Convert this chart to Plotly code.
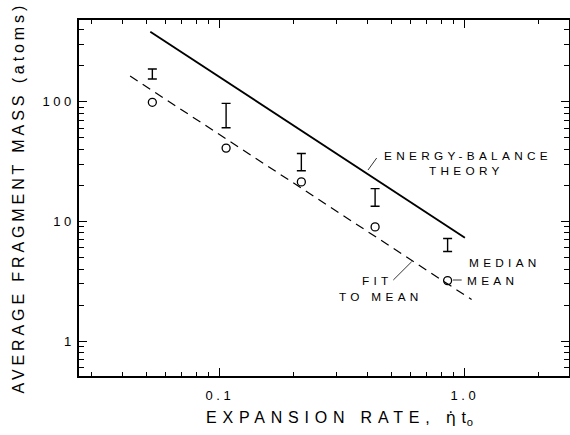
import plotly.graph_objects as go
import math

# ---------------- data ----------------
rate = [0.053, 0.106, 0.215, 0.43, 0.85]
median_low = [155, 60.6, 26.5, 13.4, 5.6]
median_high = [188, 97, 37, 18.8, 7.2]
mean_mass = [99, 41, 21.4, 9.0, 3.2]

theory_x = [0.052, 1.0]
theory_y = [385, 7.3]
fit_x = [0.043, 1.065]
fit_y = [164, 2.22]

x_tick_vals = [0.1, 1.0]
x_tick_text = ["0.1", "1.0"]
y_tick_vals = [1, 10, 100]
y_tick_text = ["1", "10", "100"]
x_minor = [0.03, 0.04, 0.05, 0.06, 0.07, 0.08, 0.09,
           0.2, 0.3, 0.4, 0.5, 0.6, 0.7, 0.8, 0.9, 2]
y_minor = [0.6, 0.7, 0.8, 0.9, 2, 3, 4, 5, 6, 7, 8, 9,
           20, 30, 40, 50, 60, 70, 80, 90, 200, 300, 400]

# ---------------- layout geometry ----------------
W, H = 570, 435
L, R, T, B = 79, 1, 20, 59
PW = W - L - R
PH = H - T - B
FONT = "Liberation Sans, Arial, sans-serif"
XR = [math.log10(0.0266), math.log10(2.66)]
YR = [math.log10(0.51), 2.6837]


def px(x):
    return (x - L) / PW


def py(y):
    return (H - B - y) / PH


def sp(text, s):
    return f'<span style="letter-spacing:{s}px">{text}</span>'


fig = go.Figure()

fig.add_trace(go.Scatter(
    x=theory_x, y=theory_y, mode="lines",
    line=dict(color="black", width=1.9), showlegend=False))
fig.add_trace(go.Scatter(
    x=fit_x, y=fit_y, mode="lines",
    line=dict(color="black", width=1.2, dash="9px,6px"), showlegend=False))

centers = [math.sqrt(a * b) for a, b in zip(median_low, median_high)]
fig.add_trace(go.Scatter(
    x=rate, y=centers, mode="markers",
    marker=dict(size=1, color="rgba(0,0,0,0)"),
    error_y=dict(type="data", symmetric=False,
                 array=[h - c for h, c in zip(median_high, centers)],
                 arrayminus=[c - l for l, c in zip(median_low, centers)],
                 color="black", thickness=1.4, width=4.5),
    showlegend=False))
# open circles drawn on the mirrored (top/right) axes, identical ranges
fig.add_trace(go.Scatter(
    x=rate, y=mean_mass, mode="markers", xaxis="x2", yaxis="y2",
    marker=dict(symbol="circle-open", size=8, color="black",
                line=dict(width=1.3, color="black")),
    showlegend=False))

axis_common = dict(
    type="log", showgrid=False, zeroline=False,
    showline=True, linecolor="black", linewidth=1.5,
    ticks="inside", ticklen=8, tickwidth=1,
    tickcolor="black", tickmode="array",
    tickfont=dict(family=FONT, size=13, color="black"),
)
x_minor_d = dict(tickvals=x_minor, ticks="inside", ticklen=4,
                 tickcolor="black", tickwidth=1)
y_minor_d = dict(tickvals=y_minor, ticks="inside", ticklen=5,
                 tickcolor="black", tickwidth=1)

fig.update_layout(
    xaxis=dict(**axis_common, range=XR, tickvals=x_tick_vals,
               ticktext=[sp(t, 3.5) for t in x_tick_text],
               ticklabelstandoff=7, minor=x_minor_d),
    yaxis=dict(**axis_common, range=YR, tickvals=y_tick_vals,
               ticktext=[sp(t, 3.5) for t in y_tick_text],
               minor=y_minor_d),
    xaxis2=dict(**axis_common, range=XR, tickvals=x_tick_vals,
                showticklabels=False, overlaying="x", side="top",
                anchor="y2", minor=x_minor_d),
    yaxis2=dict(**axis_common, range=YR, tickvals=y_tick_vals,
                showticklabels=False, overlaying="y", side="right",
                anchor="x2", minor=y_minor_d),
)

labels = [
    ("ENERGY-BALANCE", 381.7, 155.7),
    ("THEORY", 426.7, 170.7),
    ("MEDIAN", 466.7, 263.3),
    ("MEAN", 465.0, 281.0),
    ("FIT", 360.0, 281.0),
    ("TO MEAN", 337.0, 296.7),
]
for txt, lx, ly in labels:
    fig.add_annotation(
        text=sp(txt, 4.3), x=px(lx), y=py(ly), xref="paper", yref="paper",
        xanchor="left", yanchor="middle", showarrow=False,
        font=dict(family=FONT, size=11.8, color="black"))

fig.add_annotation(
    text=(sp("EXPANSION RATE, ", 5.8)
          + '<span style="font-family:DejaVu Sans">η̇</span>'
          + sp(" t<sub>o</sub>", 1)),
    x=px(204), y=py(417.5), xref="paper", yref="paper",
    xanchor="left", yanchor="middle", showarrow=False,
    font=dict(family=FONT, size=16, color="black"))

fig.add_annotation(
    text=sp("AVERAGE FRAGMENT MASS (atoms)", 3.9),
    x=px(17.5), y=py(198), xref="paper", yref="paper",
    xanchor="center", yanchor="middle", textangle=-90, showarrow=False,
    font=dict(family=FONT, size=16, color="black"))

leaders = [
    (368, 170, 376.7, 158),
    (453, 280, 461.7, 280),
    (393.3, 280, 411.7, 261.7),
]
for x0, y0, x1, y1 in leaders:
    fig.add_shape(type="line", xref="paper", yref="paper",
                  x0=px(x0), y0=py(y0), x1=px(x1), y1=py(y1),
                  line=dict(color="black", width=0.8))

fig.update_layout(
    width=W, height=H,
    margin=dict(l=L, r=R, t=T, b=B),
    paper_bgcolor="white", plot_bgcolor="white",
    font=dict(family=FONT, color="black"),
    showlegend=False,
)

fig.write_html("out.html")
